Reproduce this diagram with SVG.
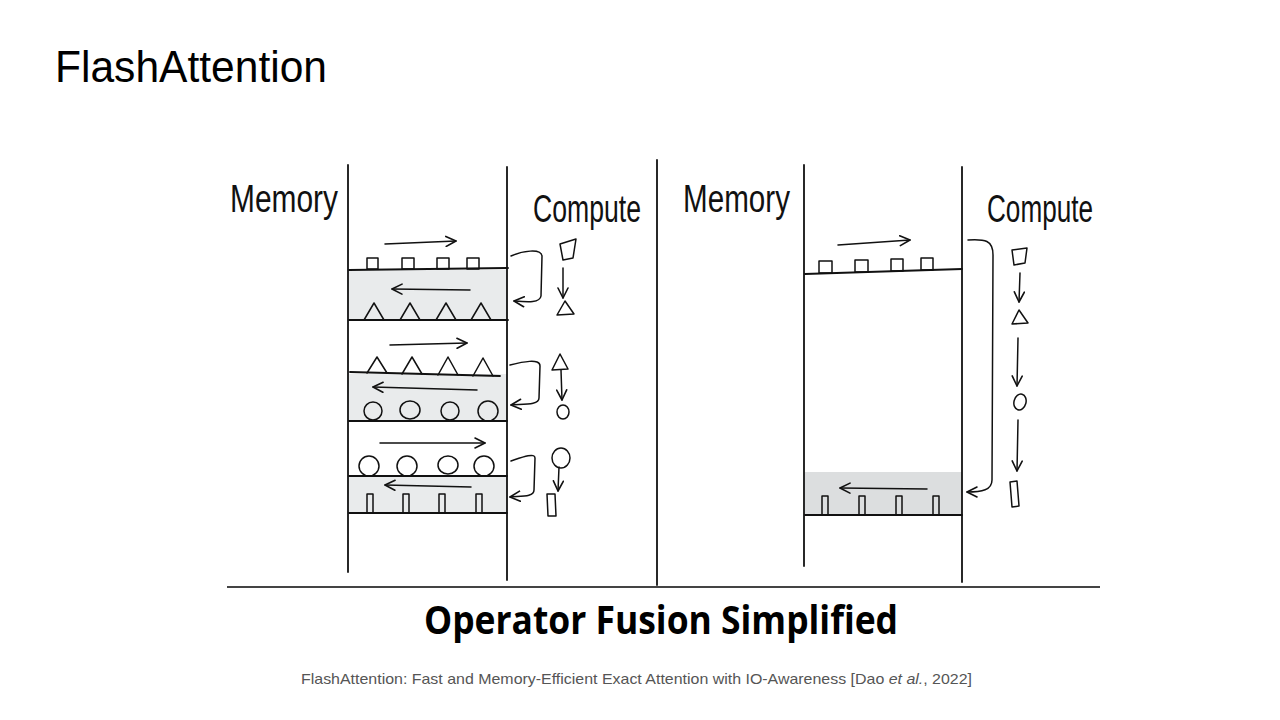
<svg xmlns="http://www.w3.org/2000/svg" width="1280" height="720" viewBox="0 0 1280 720">
<style>
.ln{stroke:#111;stroke-width:1.8;fill:none;stroke-linecap:round;stroke-linejoin:round}
.th{stroke:#111;stroke-width:1.5;fill:none;stroke-linecap:round;stroke-linejoin:round}
.hand{font-family:"Liberation Sans",Arial,sans-serif;font-size:38px;fill:#111}
.g1{fill:#e9ebec}
.g2{fill:#dcdedf}
</style>
<defs>
<marker id="ah" viewBox="0 0 12 12" refX="11" refY="6" markerWidth="12" markerHeight="12" markerUnits="userSpaceOnUse" orient="auto">
<path d="M1,1 L11,6 L1,11" fill="none" stroke="#111" stroke-width="1.6" stroke-linecap="round" stroke-linejoin="round"/>
</marker>
</defs>
<rect width="1280" height="720" fill="#fff"/>
<text x="55" y="82" font-family="Liberation Sans,Arial,sans-serif" font-size="44" textLength="272" lengthAdjust="spacingAndGlyphs" fill="#000">FlashAttention</text>

<g id="left-panel">
<rect class="g1" x="349" y="270" width="158" height="50"/>
<rect class="g1" x="349" y="374" width="158" height="47"/>
<rect class="g1" x="349" y="476" width="158" height="37"/>
<line class="ln" x1="348" y1="165" x2="348" y2="572"/>
<line class="ln" x1="507" y1="167" x2="507" y2="580"/>
<line class="ln" x1="349" y1="270" x2="508" y2="268"/>
<line class="ln" x1="349" y1="320" x2="508" y2="320"/>
<line class="ln" x1="350" y1="372" x2="500" y2="376"/>
<line class="ln" x1="349" y1="421" x2="507" y2="421"/>
<line class="ln" x1="349" y1="476" x2="507" y2="476"/>
<line class="ln" x1="349" y1="513" x2="507" y2="513"/>
<text class="hand" x="230" y="212" textLength="108" lengthAdjust="spacingAndGlyphs">Memory</text>
<text class="hand" x="533" y="222" textLength="108" lengthAdjust="spacingAndGlyphs">Compute</text>
<g class="th">
<rect x="367" y="258" width="11" height="11"/>
<rect x="402" y="258" width="12" height="11"/>
<rect x="437" y="258" width="12" height="11"/>
<rect x="467" y="258" width="12" height="11"/>
<path d="M364,320 L374,303 L384,320"/>
<path d="M400,320 L410,303 L420,320"/>
<path d="M436,320 L446,303 L456,320"/>
<path d="M471,320 L481,303 L491,320"/>
<path d="M367,373 L377,357 L387,373"/>
<path d="M402,374 L412,357 L422,374"/>
<path d="M438,375 L448,357 L458,375"/>
<path d="M473,376 L483,358 L493,376"/>
<circle cx="373" cy="411" r="9"/>
<ellipse cx="410" cy="410" rx="10" ry="9"/>
<circle cx="450" cy="411" r="9"/>
<circle cx="488" cy="411" r="10"/>
<circle cx="369" cy="466" r="10"/>
<circle cx="407" cy="466" r="10"/>
<ellipse cx="448" cy="465" rx="10" ry="9"/>
<circle cx="484" cy="466" r="10"/>
<path d="M367,513 L367,494 L373,494 L373,513"/>
<path d="M403,513 L403,494 L409,494 L409,513"/>
<path d="M439,513 L439,494 L445,494 L445,513"/>
<path d="M476,513 L476,494 L482,494 L482,513"/>
</g>
<g class="th">
<path d="M385,244 L456,241" marker-end="url(#ah)"/>
<path d="M470,290 L392,289" marker-end="url(#ah)"/>
<path d="M390,345 L467,343" marker-end="url(#ah)"/>
<path d="M477,390 L373,387" marker-end="url(#ah)"/>
<path d="M380,443 L485,443" marker-end="url(#ah)"/>
<path d="M471,487 L385,485" marker-end="url(#ah)"/>
</g>
</g>

<g id="left-connectors" class="th">
<path d="M511,256 C522,251 541,248 542,256 L541,296 C540,303 528,302 514,301" marker-end="url(#ah)"/>
<path d="M510,365 C522,362 540,358 540,366 L539,398 C539,405 525,404 511,405" marker-end="url(#ah)"/>
<path d="M511,461 C520,458 535,452 535,458 L534,490 C534,497 522,496 510,497" marker-end="url(#ah)"/>
<path d="M563,268 L563,298" marker-end="url(#ah)"/>
<path d="M561,370 L562,400" marker-end="url(#ah)"/>
<path d="M559,467 L558,491" marker-end="url(#ah)"/>
</g>

<g id="left-compute" class="th">
<path d="M560,244 L576,239 L573,258 L563,260 Z"/>
<path d="M565,301 L574,314 L557,315 Z"/>
<path d="M560,354 L568,369 L552,370 Z"/>
<ellipse cx="563" cy="412" rx="6" ry="7"/>
<ellipse cx="561" cy="458" rx="9" ry="10"/>
<path d="M547,494 L555,494 L556,516 L548,516 Z"/>
</g>

<line class="ln" x1="657" y1="160" x2="657" y2="585"/>

<g id="right-panel">
<rect class="g2" x="805" y="472" width="157" height="43"/>
<line class="ln" x1="804" y1="165" x2="804" y2="566"/>
<line class="ln" x1="962" y1="167" x2="962" y2="582"/>
<line class="ln" x1="805" y1="274" x2="962" y2="269"/>
<line class="ln" x1="805" y1="515" x2="962" y2="515"/>
<text class="hand" x="683" y="212" textLength="107" lengthAdjust="spacingAndGlyphs">Memory</text>
<text class="hand" x="987" y="222" textLength="106" lengthAdjust="spacingAndGlyphs">Compute</text>
<g class="th">
<rect x="819" y="261" width="13" height="12"/>
<rect x="855" y="260" width="13" height="12"/>
<rect x="891" y="259" width="12" height="12"/>
<rect x="921" y="258" width="12" height="12"/>
<path d="M822,515 L822,496 L828,496 L828,515"/>
<path d="M859,515 L859,496 L865,496 L865,515"/>
<path d="M896,515 L896,496 L902,496 L902,515"/>
<path d="M933,515 L933,496 L939,496 L939,515"/>
<path d="M838,245 L910,240" marker-end="url(#ah)"/>
<path d="M927,489 L840,488" marker-end="url(#ah)"/>
</g>
</g>

<g id="right-connectors" class="th">
<path d="M968,240 C985,239 993,240 993,255 L992,480 C992,490 982,492 967,492" marker-end="url(#ah)"/>
<path d="M1020,273 L1019,302" marker-end="url(#ah)"/>
<path d="M1018,338 L1017,386" marker-end="url(#ah)"/>
<path d="M1018,420 L1017,471" marker-end="url(#ah)"/>
</g>

<g id="right-compute" class="th">
<path d="M1012,250 L1027,248 L1025,263 L1014,265 Z"/>
<path d="M1019,310 L1028,323 L1012,324 Z"/>
<ellipse cx="1020" cy="402" rx="6" ry="8" transform="rotate(15 1020 402)"/>
<path d="M1010,482 L1017,481 L1019,506 L1012,507 Z"/>
</g>

<line x1="227" y1="587" x2="1100" y2="587" stroke="#444" stroke-width="1.8"/>
<text x="424" y="634" font-family="Open Sans,Noto Sans,sans-serif" font-weight="bold" font-size="40" textLength="474" lengthAdjust="spacingAndGlyphs" fill="#000">Operator Fusion Simplified</text>
<text x="301" y="684" font-family="Liberation Sans,Arial,sans-serif" font-size="15" fill="#555" textLength="671" lengthAdjust="spacingAndGlyphs">FlashAttention: Fast and Memory-Efficient Exact Attention with IO-Awareness [Dao <tspan font-style="italic">et al.</tspan>, 2022]</text>
</svg>
